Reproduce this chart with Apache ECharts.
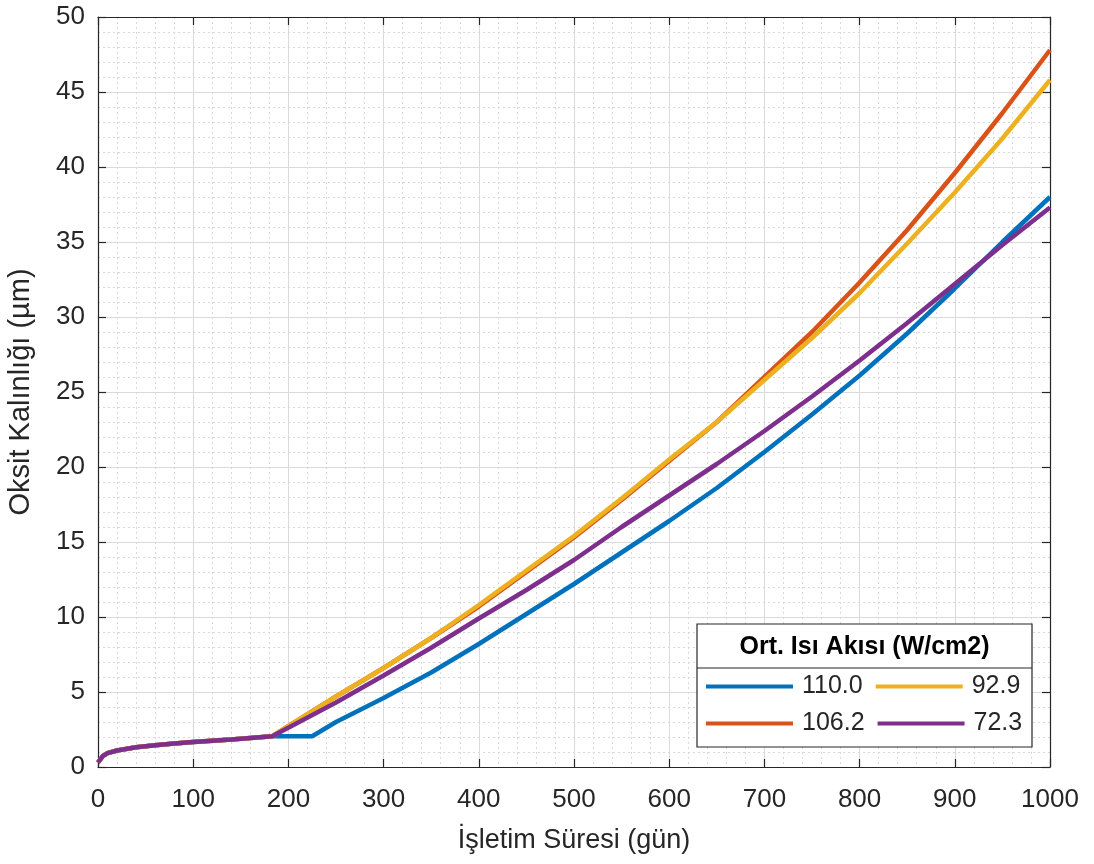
<!DOCTYPE html>
<html>
<head>
<meta charset="utf-8">
<script src="https://cdn.jsdelivr.net/npm/echarts@6/dist/echarts.min.js"></script>
<style>html,body{margin:0;padding:0;background:#fff;}#c{width:1094px;height:864px;}</style>
</head>
<body>
<div id="c"></div>
<script>
// Shared early segment (all series coincide)
const earlyX = [0, 5, 10, 20, 40, 60, 80, 100, 120, 140, 160, 183];
const earlyY = [0.3, 0.72, 0.92, 1.1, 1.32, 1.45, 1.56, 1.66, 1.75, 1.84, 1.94, 2.05];

const lateX = [250, 300, 350, 400, 450, 500, 550, 600, 650, 700, 750, 800, 850, 900, 950, 1000];
// 110.0 W/cm2 (blue) – flat to 225 then rises
const blueX = [225].concat(lateX);
const blueY = [2.05, 3.0, 4.6, 6.3, 8.2, 10.2, 12.2, 14.3, 16.4, 18.6, 21.0, 23.5, 26.1, 28.9, 31.9, 35.0, 38.0];
// 106.2 (orange)
const orangeY = [4.7, 6.6, 8.6, 10.7, 13.0, 15.3, 17.8, 20.4, 23.0, 26.0, 29.0, 32.3, 35.8, 39.6, 43.6, 47.8];
// 92.9 (yellow)
const yellowY = [4.7, 6.6, 8.6, 10.8, 13.1, 15.4, 17.9, 20.5, 23.0, 25.8, 28.6, 31.6, 34.9, 38.3, 41.9, 45.8];
// 72.3 (purple)
const purpleY = [4.3, 6.1, 7.95, 9.9, 11.8, 13.8, 16.0, 18.1, 20.2, 22.4, 24.7, 27.1, 29.6, 32.2, 34.8, 37.3];

const names = ['110.0', '106.2', '92.9', '72.3'];
const colors = ['#0072BD', '#D95319', '#EDB120', '#7E2F8E'];
const xTicks = [0, 100, 200, 300, 400, 500, 600, 700, 800, 900, 1000];
const yTicks = [0, 5, 10, 15, 20, 25, 30, 35, 40, 45, 50];

function pairs(xs, ys) { return xs.map((x, i) => [x, ys[i]]); }
const early = pairs(earlyX, earlyY);
const seriesData = [
  early.concat(pairs(blueX, blueY)),
  early.concat(pairs(lateX, orangeY)),
  early.concat(pairs(lateX, yellowY)),
  early.concat(pairs(lateX, purpleY))
];

const FONT = '"Liberation Sans", Arial, sans-serif';
const TXT = '#262626';
const tick = {show: true, inside: true, length: 8, lineStyle: {color: TXT, width: 1.2}};
const aline = {show: true, onZero: false, lineStyle: {color: TXT, width: 1.2}};
const majorGrid = {show: true, lineStyle: {color: '#dadada', width: 1}};
const minorGrid = {show: true, lineStyle: {color: '#d9d9d9', width: 1, type: [2, 3]}};

const chart = echarts.init(document.getElementById('c'), null, {renderer: 'canvas'});
chart.setOption({
  backgroundColor: '#ffffff',
  animation: false,
  grid: {left: 98, right: 44, top: 17, bottom: 97, containLabel: false, outerBoundsMode: 'none'},
  xAxis: [
    {
      type: 'value', position: 'bottom', min: xTicks[0], max: xTicks[xTicks.length - 1], interval: 100,
      name: 'İşletim Süresi (gün)', nameLocation: 'middle', nameGap: 60,
      nameTextStyle: {fontFamily: FONT, fontSize: 27, color: TXT},
      axisLine: aline, axisTick: tick,
      minorTick: {show: false, splitNumber: 5},
      axisLabel: {fontFamily: FONT, fontSize: 26, color: TXT, margin: 20, formatter: v => String(v)},
      splitLine: majorGrid, minorSplitLine: minorGrid
    },
    {
      type: 'value', position: 'top', min: 0, max: 1000, interval: 100,
      axisLine: aline, axisTick: tick, axisLabel: {show: false}, splitLine: {show: false}
    }
  ],
  yAxis: [
    {
      type: 'value', position: 'left', min: yTicks[0], max: yTicks[yTicks.length - 1], interval: 5,
      name: 'Oksit Kalınlığı (µm)', nameLocation: 'middle', nameGap: 63, nameRotate: 90,
      nameTextStyle: {fontFamily: FONT, fontSize: 29, color: TXT},
      axisLine: aline, axisTick: tick,
      minorTick: {show: false, splitNumber: 5},
      axisLabel: {fontFamily: FONT, fontSize: 26, color: TXT, margin: 13, formatter: v => String(v)},
      splitLine: majorGrid, minorSplitLine: minorGrid
    },
    {
      type: 'value', position: 'right', min: 0, max: 50, interval: 5,
      axisLine: aline, axisTick: tick, axisLabel: {show: false}, splitLine: {show: false}
    }
  ],
  legend: [
    {data: ['110.0', '92.9'], left: 706, top: 674, orient: 'horizontal', icon: 'rect',
     itemWidth: 87, itemHeight: 4, itemGap: 13, padding: 0,
     textStyle: {fontFamily: FONT, fontSize: 25, color: TXT, padding: [0, 0, 0, 4]}},
    {data: ['106.2', '72.3'], left: 706, top: 711, orient: 'horizontal', icon: 'rect',
     itemWidth: 87, itemHeight: 4, itemGap: 13, padding: 0,
     textStyle: {fontFamily: FONT, fontSize: 25, color: TXT, padding: [0, 0, 0, 4]}}
  ],
  graphic: [
    {type: 'rect', z: 3, shape: {x: 697, y: 624, width: 335, height: 123},
     style: {fill: '#ffffff', stroke: TXT, lineWidth: 1.2}},
    {type: 'line', z: 3, shape: {x1: 697, y1: 668, x2: 1032, y2: 668},
     style: {stroke: TXT, lineWidth: 1.2}},
    {type: 'text', z: 3, x: 864.5, y: 647,
     style: {text: 'Ort. Isı Akısı (W/cm2)', fontFamily: FONT, fontSize: 25, fontWeight: 'bold',
             fill: '#000000', textAlign: 'center', textVerticalAlign: 'middle'}}
  ],
  series: names.map((n, i) => ({
    name: n, type: 'line', data: seriesData[i], showSymbol: false, symbol: 'none',
    xAxisIndex: 0, yAxisIndex: 0, z: 2 + i * 0.1,
    lineStyle: {color: colors[i], width: 4.5}, itemStyle: {color: colors[i]}
  }))
});
</script>
</body>
</html>
